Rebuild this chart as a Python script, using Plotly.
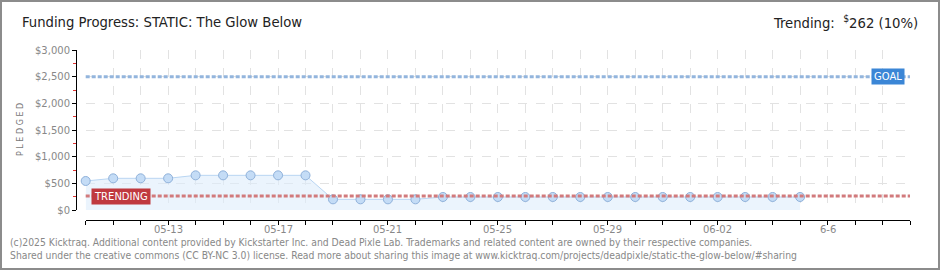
import plotly.graph_objects as go
import pandas as pd

# ---- data ----
dates = pd.date_range("2025-05-10", "2025-06-05", freq="D").strftime("%Y-%m-%d").tolist()
pledged = [544, 594, 594, 594, 650, 650, 650, 650, 650,
           200, 200, 200, 200,
           244, 244, 244, 244, 244, 244, 244, 244, 244, 244, 244, 244, 244, 244]
goal = 2500
trending = 262
x_start = "2025-05-10"
x_end = "2025-06-09"
tick_dates = ["2025-05-13", "2025-05-17", "2025-05-21", "2025-05-25",
              "2025-05-29", "2025-06-02", "2025-06-06"]
tick_text = ["05-13", "05-17", "05-21", "05-25", "05-29", "06-02", "6-6"]
y_ticks = [0, 500, 1000, 1500, 2000, 2500, 3000]
y_ticktext = ["${:,}".format(v) for v in y_ticks]

title_text = "Funding Progress: STATIC: The Glow Below"
trend_text = "Trending:  <sup>$</sup>262 (10%)"
footer1 = ("(c)2025 Kicktraq. Additional content provided by Kickstarter Inc. and Dead Pixle Lab. "
           "Trademarks and related content are owned by their respective companies.")
footer2 = ("Shared under the creative commons (CC BY-NC 3.0) license. Read more about sharing this "
           "image at www.kicktraq.com/projects/deadpixle/static-the-glow-below/#sharing")

# ---- layout geometry (pixels) ----
W, H = 940, 270
L, R, T, B = 76, 30, 50, 50          # paper: x 76..910, y 50..220
PW, PH = W - L - R, H - T - B
cond = "DejaVu Sans Condensed, Liberation Sans Narrow, Arial Narrow, sans-serif"
pix = "DejaVu Sans, Verdana, sans-serif"


def py(pixel_y):
    return (H - B - pixel_y) / PH


def px(pixel_x):
    return (pixel_x - L) / PW


fig = go.Figure()
fig.add_trace(go.Scatter(
    x=dates, y=pledged, mode="lines+markers",
    line=dict(color="#b9d5f2", width=1),
    fill="tozeroy", fillcolor="rgba(222,236,252,0.6)",
    marker=dict(size=9, color="#c4dcf6", line=dict(color="#8fb1da", width=1)),
    cliponaxis=False, hoverinfo="x+y", showlegend=False,
))

# goal & trending lines
fig.add_shape(type="line", xref="x domain", yref="y", x0=0, x1=1, y0=goal, y1=goal,
              line=dict(color="#93b5dd", width=3, dash="4px,2px"), layer="above")
fig.add_shape(type="line", xref="x domain", yref="y", x0=0, x1=1, y0=trending, y1=trending,
              line=dict(color="#d27a7c", width=3, dash="4px,2px"), layer="above")

fig.add_annotation(xref="x domain", yref="y", x=0.9735, y=goal, text="GOAL",
                   showarrow=False, font=dict(family=pix, size=10, color="white"),
                   bgcolor="#3b86d6", borderpad=2, xanchor="center", yanchor="middle")
fig.add_annotation(xref="x domain", yref="y", x=0.0425, y=trending, text="TRENDING",
                   showarrow=False, font=dict(family=pix, size=10, color="white"),
                   bgcolor="#c0393f", borderpad=2, xanchor="center", yanchor="middle")

# x tick labels
for d, t in zip(tick_dates, tick_text):
    fig.add_annotation(xref="x", yref="paper", x=d, y=py(229), text=t, showarrow=False,
                       xanchor="center", yanchor="middle",
                       font=dict(family=pix, size=10, color="#888"))

# titles
fig.add_annotation(xref="paper", yref="paper", x=px(20), y=py(22),
                   text=title_text, showarrow=False, xanchor="left", yanchor="middle",
                   font=dict(family=cond, size=14.7, color="#222"))
fig.add_annotation(xref="paper", yref="paper", x=px(920), y=py(22),
                   text=trend_text, showarrow=False, xanchor="right", yanchor="middle",
                   font=dict(family=cond, size=14.7, color="#222"))
fig.add_annotation(xref="paper", yref="paper", x=px(20), y=py(130),
                   text="P L E D G E D", textangle=-90, showarrow=False,
                   xanchor="center", yanchor="middle",
                   font=dict(family=pix, size=8, color="#777"))
fig.add_annotation(xref="paper", yref="paper", x=px(8), y=py(242),
                   text=footer1, showarrow=False, xanchor="left", yanchor="middle",
                   font=dict(family=cond, size=10.3, color="#888"))
fig.add_annotation(xref="paper", yref="paper", x=px(8), y=py(255),
                   text=footer2, showarrow=False, xanchor="left", yanchor="middle",
                   font=dict(family=cond, size=10.3, color="#888"))

# outer border
fig.add_shape(type="rect", xref="paper", yref="paper",
              x0=px(1), x1=px(939), y0=py(269), y1=py(1),
              line=dict(color="#8c8c8c", width=2), layer="above")

grid = "#e2e2e2"
fig.update_layout(
    width=W, height=H, margin=dict(l=L, r=R, t=T, b=B),
    paper_bgcolor="white", plot_bgcolor="white",
    xaxis=dict(
        type="date", range=[x_start, x_end],
        domain=[9.7 / PW, 1], anchor="free", position=0,
        tickvals=tick_dates, showticklabels=False,
        ticks="outside", ticklen=4, tickcolor="#000", tickwidth=1,
        showline=True, linecolor="#000", linewidth=1,
        showgrid=True, gridcolor=grid, griddash="dash", gridwidth=1,
        minor=dict(dtick=86400000, tick0=x_start, ticks="outside", ticklen=4,
                   tickcolor="#000", showgrid=True, gridcolor=grid, griddash="dash"),
        zeroline=False, fixedrange=True,
    ),
    yaxis=dict(
        range=[0, 3000], domain=[10 / PH, 1], anchor="free", position=0,
        tickvals=y_ticks, ticktext=y_ticktext,
        ticks="outside", ticklen=4, tickcolor="#000",
        showline=True, linecolor="#000", linewidth=1,
        showgrid=True, gridcolor=grid, griddash="dash",
        minor=dict(dtick=250, tick0=0, ticks="outside", ticklen=3, tickcolor="#e03030",
                   showgrid=False),
        tickfont=dict(family=pix, size=10, color="#888"),
        zeroline=False, fixedrange=True,
    ),
    showlegend=False,
)

fig.write_html("out.html")
